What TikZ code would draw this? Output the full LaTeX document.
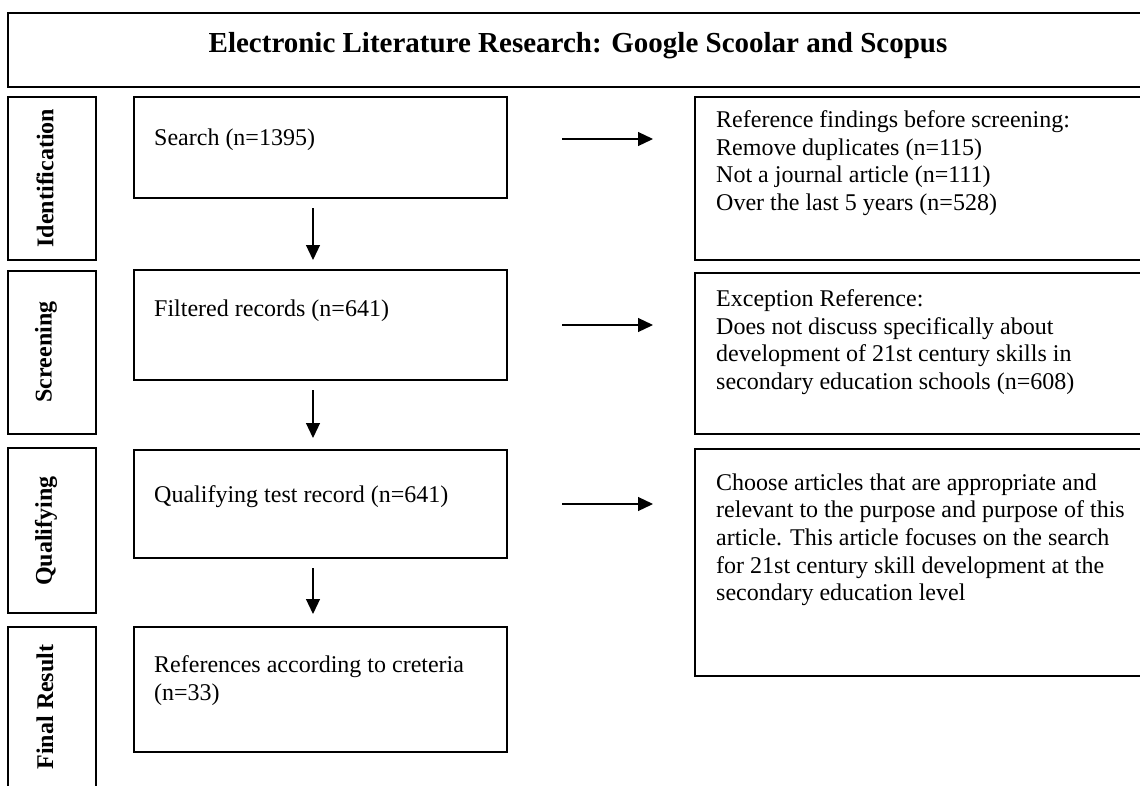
\documentclass[tikz,border=0pt]{standalone}
\usepackage{fontspec}
\setmainfont{Liberation Serif}
\usetikzlibrary{arrows.meta}
\tikzset{
  box/.style={draw, line width=1.9pt, inner sep=0pt, outer sep=0pt, anchor=north west},
  txt/.style={font=\fontsize{24}{27.6}\selectfont, align=left, inner sep=0pt, anchor=base west},
  mtxt/.style={font=\fontsize{24}{27.6}\selectfont, align=left, inner sep=0pt, anchor=north west},
  lbl/.style={font=\bfseries\fontsize{24}{27.6}\selectfont, rotate=90, inner sep=0pt},
  arr/.style={-{Triangle[length=15pt,width=14pt]}, line width=1.2pt}
}
\begin{document}
\begin{tikzpicture}[x=1pt,y=-1pt]
\path[use as bounding box] (0,0) rectangle (1140,785);
\clip (0,0) rectangle (1140,785);
% title
\node[box, minimum width=1160pt, minimum height=74pt] (titlebox) at (8,13) {};
\node[font=\bfseries\fontsize{29}{33}\selectfont, inner sep=0pt, anchor=base] (title) at (578,52) {Electronic Literature Research: Google Scoolar and Scopus};
% stage labels
\node[box, minimum width=88pt, minimum height=163pt] (l1) at (8,97) {};
\node[box, minimum width=88pt, minimum height=163pt] (l2) at (8,271) {};
\node[box, minimum width=88pt, minimum height=165pt] (l3) at (8,448) {};
\node[box, minimum width=88pt, minimum height=175pt] (l4) at (8,627) {};
\node[lbl] (t1) at (45,178) {Identification};
\node[lbl] (t2) at (46,352) {Screening};
\node[lbl] (t3) at (46,531) {Qualifying};
\node[lbl] (t4) at (45,707) {Final Result};
% middle boxes
\node[box, minimum width=373pt, minimum height=101pt] (search) at (134,97) {};
\node[box, minimum width=373pt, minimum height=110pt] (filtered) at (134,270) {};
\node[box, minimum width=373pt, minimum height=108pt] (qual) at (134,450) {};
\node[box, minimum width=373pt, minimum height=125pt] (final) at (134,627) {};
\node[txt] (searcht) at (154,145) {Search (n=1395)};
\node[txt] (filteredt) at (154,316) {Filtered records (n=641)};
\node[txt] (qualt) at (154,502) {Qualifying test record (n=641)};
\node[mtxt] (finalt) at (154,655.5) {References according to creteria\\(n=33)};
% right boxes
\node[box, minimum width=470pt, minimum height=163pt] (r1) at (695,97) {};
\node[box, minimum width=470pt, minimum height=161pt] (r2) at (695,273) {};
\node[box, minimum width=470pt, minimum height=227pt] (r3) at (695,449) {};
\node[mtxt] (r1t) at (716,110.5) {Reference findings before screening:\\Remove duplicates (n=115)\\Not a journal article (n=111)\\Over the last 5 years (n=528)};
\node[mtxt] (r2t) at (716,289.5) {Exception Reference:\\Does not discuss specifically about\\development of 21st century skills in\\secondary education schools (n=608)};
\node[mtxt] (r3t) at (716,473.5) {Choose articles that are appropriate and\\relevant to the purpose and purpose of this\\article. This article focuses on the search\\for 21st century skill development at the\\secondary education level};
% vertical arrows
\draw[arr, shorten <=10pt, shorten >=10pt] ([xshift=-7.5pt]search.south) -- ([xshift=-7.5pt]filtered.north);
\draw[arr, shorten <=10pt, shorten >=12pt] ([xshift=-7.5pt]filtered.south) -- ([xshift=-7.5pt]qual.north);
\draw[arr, shorten <=10pt, shorten >=13pt] ([xshift=-7.5pt]qual.south) -- ([xshift=-7.5pt]final.north);
% horizontal arrows
\draw[arr, shorten <=55pt, shorten >=42pt] ([yshift=8.5pt]search.east) -- ([yshift=8.5pt]search.east -| r1.west);
\draw[arr, shorten <=55pt, shorten >=42pt] (filtered.east) -- (filtered.east -| r2.west);
\draw[arr, shorten <=55pt, shorten >=42pt] (qual.east) -- (qual.east -| r3.west);
\end{tikzpicture}
\end{document}
